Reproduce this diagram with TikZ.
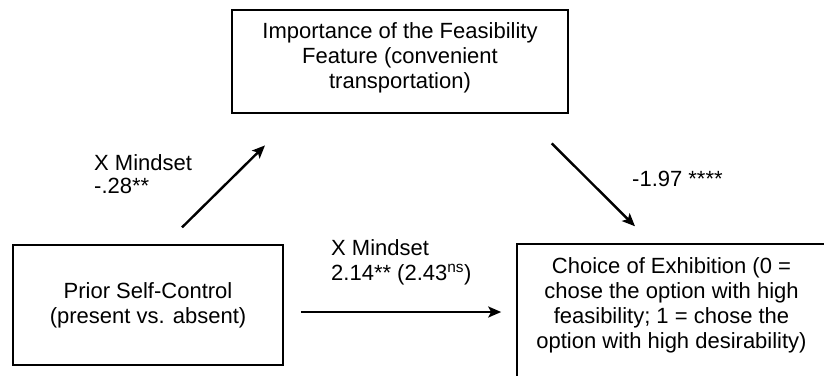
\documentclass[tikz,border=0pt]{standalone}
\usepackage{fontspec}
\setmainfont{Liberation Sans}
\usetikzlibrary{arrows.meta}

\tikzset{
  box/.style={draw, line width=1.6pt, align=center, inner sep=0pt},
  lab/.style={align=left, inner sep=0pt, anchor=north west},
  arr/.style={line width=2.4pt, -{Stealth[length=13pt,width=11pt,inset=3pt]}}
}

\begin{document}
\begin{tikzpicture}[x=1pt, y=-1pt, font=\fontsize{22}{25}\selectfont]
  \useasboundingbox (0,0) rectangle (824,375);
  \node[box, minimum width=336pt, minimum height=103pt, text depth=12pt] (feat) at (400,61.5)
    {Importance of the Feasibility\\ Feature (convenient\\ transportation)};
  \node[box, minimum width=270pt, minimum height=120pt] (prior) at (148,305)
    {Prior Self-Control\\ (present vs. absent)};
  \node[box, minimum width=309pt, minimum height=144pt, text depth=26pt] (choice) at (671.5,316)
    {Choice of Exhibition (0 =\\ chose the option with high\\ feasibility; 1 = chose the\\ option with high desirability)};
  \node[lab] (mind1) at (94,154) {X Mindset\\[-2pt] -.28**};
  \node[lab] (mind2) at (331,239) {X Mindset\\ 2.14** (2.43\textsuperscript{ns})};
  \node[lab] (coef) at (632,171) {-1.97 ****};
  \path[arr]
  ([xshift=17pt]prior.north) edge[shorten <=24pt, shorten >=45pt] ([xshift=-103pt]feat.south)
  ([xshift=122pt]feat.south) edge[shorten <=42pt, shorten >=24pt] ([xshift=-19.5pt]choice.north)
  ([yshift=-7pt]prior.east) edge[shorten <=17pt, shorten >=15pt] ([yshift=-7pt]prior.east -| choice.west);
\end{tikzpicture}
\end{document}
